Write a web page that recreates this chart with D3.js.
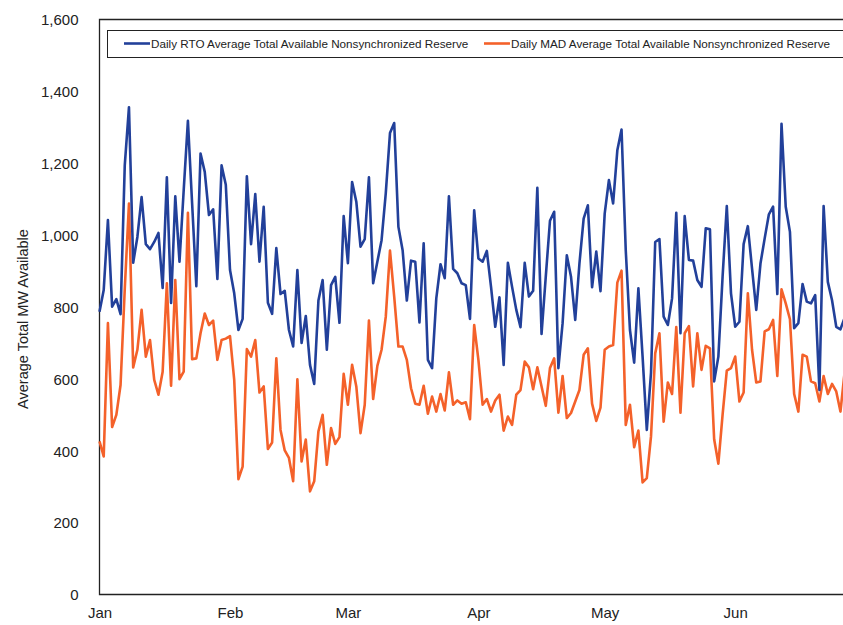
<!DOCTYPE html>
<html>
<head>
<meta charset="utf-8">
<script src="https://cdn.jsdelivr.net/npm/d3@7"></script>
<style>
	body { margin: 0; background: #fff; }
	svg { display: block; font-family: "Liberation Sans", Arial, sans-serif; }
</style>
</head>
<body>
<script>
// Daily values, Jan 1 onward (one entry per day)
var startDate = new Date(2023, 0, 1);
var endDate = new Date(2023, 6, 1);

var rtoValues = [
	787, 847, 1042, 801, 822, 780, 1194, 1356, 923, 995,
	1106, 975, 961, 981, 1006, 853, 1161, 811, 1108, 926,
	1125, 1318, 1088, 858, 1227, 1176, 1056, 1072, 878, 1194,
	1140, 903, 838, 736, 767, 1164, 975, 1114, 926, 1079,
	812, 781, 964, 836, 845, 736, 690, 903, 700, 775,
	639, 586, 818, 875, 681, 861, 884, 756, 1053, 922,
	1148, 1093, 968, 989, 1161, 866, 926, 986, 1117, 1284,
	1312, 1023, 958, 818, 929, 926, 757, 977, 653, 630,
	824, 919, 880, 1108, 906, 894, 866, 861, 767, 1069,
	935, 926, 956, 856, 745, 827, 639, 923, 856, 792,
	744, 923, 829, 845, 1132, 725, 884, 1040, 1065, 630,
	755, 944, 884, 764, 921, 1046, 1083, 855, 954, 844,
	1060, 1153, 1088, 1236, 1294, 958, 736, 645, 852, 662,
	458, 617, 981, 989, 773, 750, 824, 1062, 727, 1053,
	931, 929, 875, 856, 1019, 1016, 593, 662, 884, 1081,
	838, 745, 759, 975, 1025, 907, 792, 921, 991, 1058,
	1079, 836, 1310, 1079, 1009, 741, 755, 864, 815, 810,
	833, 569, 1081, 870, 819, 745, 738, 770
];

var madValues = [
	426, 384, 755, 466, 500, 583, 850, 1088, 632, 681,
	792, 662, 708, 597, 556, 620, 866, 581, 875, 599,
	620, 1062, 655, 657, 727, 782, 750, 762, 653, 708,
	712, 719, 597, 321, 356, 683, 662, 708, 562, 579,
	405, 423, 657, 458, 401, 380, 315, 599, 370, 431,
	287, 315, 454, 500, 361, 463, 419, 438, 614, 528,
	639, 579, 449, 528, 762, 544, 636, 681, 773, 957,
	829, 690, 690, 653, 574, 531, 528, 581, 503, 551,
	509, 558, 512, 618, 528, 540, 531, 535, 488, 750,
	653, 528, 544, 509, 540, 556, 456, 495, 472, 556,
	569, 648, 632, 571, 632, 579, 525, 630, 657, 506,
	608, 491, 505, 537, 569, 667, 685, 531, 483, 520,
	681, 690, 694, 868, 901, 472, 528, 410, 456, 312,
	324, 440, 671, 727, 481, 590, 558, 744, 506, 727,
	747, 579, 727, 625, 692, 685, 432, 364, 500, 623,
	630, 662, 537, 562, 838, 681, 590, 593, 732, 738,
	764, 608, 849, 810, 766, 558, 509, 667, 662, 593,
	588, 537, 608, 558, 586, 565, 509, 620
];

var yTicks = [0, 200, 400, 600, 800, 1000, 1200, 1400, 1600];
var monthTicks = ["Jan", "Feb", "Mar", "Apr", "May", "Jun"];
var seriesNames = [
	"Daily RTO Average Total Available Nonsynchronized Reserve",
	"Daily MAD Average Total Available Nonsynchronized Reserve"
];
var seriesColors = ["#22409a", "#f4612a"];

var width = 843;
var height = 625;

var dates = d3.timeDay.range(startDate, d3.timeDay.offset(startDate, rtoValues.length));
var monthDates = monthTicks.map(function(m, i) { return new Date(2023, i, 1); });

var x = d3.scaleTime()
	.domain([startDate, endDate])
	.range([99.5, 99.5 + 181 * 4.21]);

var y = d3.scaleLinear()
	.domain([0, 1600])
	.range([594.5, 19.5]);

var svg = d3.select("body")
	.append("svg")
	.attr("width", width)
	.attr("height", height);

svg.append("rect")
	.attr("width", width)
	.attr("height", height)
	.attr("fill", "#fff");

// y axis (labels only, no ticks)
var yAxis = d3.axisLeft(y)
	.tickValues(yTicks)
	.tickSize(0)
	.tickPadding(21)
	.tickFormat(d3.format(","));

var gy = svg.append("g")
	.attr("transform", "translate(99.5,0)")
	.call(yAxis);
gy.select(".domain").remove();
gy.selectAll("text")
	.attr("fill", "#222")
	.style("font-size", "15px")
	.attr("dy", "0.35em");

// x axis month labels
var xAxis = d3.axisBottom(x)
	.tickValues(monthDates)
	.tickSize(0)
	.tickPadding(13)
	.tickFormat(function(d, i) { return monthTicks[i]; });

var gx = svg.append("g")
	.attr("transform", "translate(0,594.5)")
	.call(xAxis);
gx.select(".domain").remove();
gx.selectAll("text")
	.attr("fill", "#222")
	.style("font-size", "15px");

// plot frame
svg.append("path")
	.attr("d", "M" + (width + 5) + "," + y(1600) + "H" + x(startDate) + "V" + y(0) + "H" + (width + 5))
	.attr("fill", "none")
	.attr("stroke", "#222")
	.attr("stroke-width", 1.3);

// y axis title
svg.append("text")
	.attr("transform", "translate(28,319) rotate(-90)")
	.attr("text-anchor", "middle")
	.attr("fill", "#222")
	.style("font-size", "14.5px")
	.text("Average Total MW Available");

// lines
var line = d3.line()
	.x(function(d, i) { return x(dates[i]); })
	.y(function(d) { return y(d); });

svg.append("path")
	.datum(madValues)
	.attr("d", line)
	.attr("fill", "none")
	.attr("stroke", seriesColors[1])
	.attr("stroke-width", 2.6)
	.attr("stroke-linejoin", "round");

svg.append("path")
	.datum(rtoValues)
	.attr("d", line)
	.attr("fill", "none")
	.attr("stroke", seriesColors[0])
	.attr("stroke-width", 2.6)
	.attr("stroke-linejoin", "round");

// legend
svg.append("rect")
	.attr("x", 107.5)
	.attr("y", 30.5)
	.attr("width", 760)
	.attr("height", 27)
	.attr("fill", "#fff")
	.attr("stroke", "#222")
	.attr("stroke-width", 1);

var legendX = [124, 484];
seriesNames.forEach(function(name, i) {
	svg.append("line")
		.attr("x1", legendX[i])
		.attr("x2", legendX[i] + 26)
		.attr("y1", 43.5)
		.attr("y2", 43.5)
		.attr("stroke", seriesColors[i])
		.attr("stroke-width", 2.6);
	svg.append("text")
		.attr("x", legendX[i] + 27)
		.attr("y", 47.5)
		.attr("fill", "#222")
		.style("font-size", "11.7px")
		.text(name);
});
</script>
</body>
</html>
